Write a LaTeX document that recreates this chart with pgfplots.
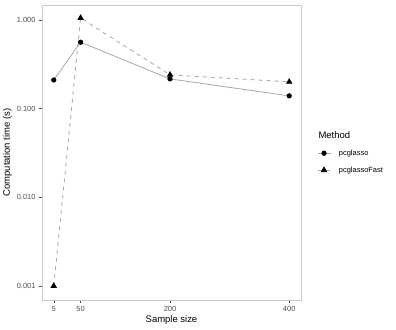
\documentclass[border=0pt]{standalone}
\usepackage{pgfplots}
\pgfplotsset{compat=1.18}
\usepackage{fontspec}
\setmainfont{Liberation Sans}
\definecolor{tickgray}{gray}{0.30}
\definecolor{framegray}{gray}{0.80}
\definecolor{linegray}{gray}{0.65}
\begin{document}
\begin{tikzpicture}[x=1bp,y=1bp]
\useasboundingbox (0,0) rectangle (396,330);
\begin{axis}[
    at={(42bp,30bp)}, anchor=south west,
    scale only axis,
    width=259bp, height=295bp,
    ymode=log,
    xmin=-14.75, xmax=419.75,
    ymin=0.000695, ymax=1.47,
    xtick={5,50,200,400},
    xticklabels={5,50,200,400},
    ytick={0.001,0.01,0.1,1},
    yticklabels={0.001,0.010,0.100,1.000},
    minor tick length=0pt,
    axis line style={framegray, line width=0.6pt},
    tick style={tickgray, line width=0.5pt},
    tick align=outside,
    major tick length=3bp,
    xtick pos=bottom, ytick pos=left,
    ticklabel style={font=\fontsize{7.5}{8}\selectfont, text=tickgray},
    /pgf/number format/assume math mode=true,
    xlabel={Sample size},
    ylabel={Computation time (s)},
    label style={font=\fontsize{9.5}{11}\selectfont},
    xlabel style={yshift=3bp},
    ylabel style={yshift=-2bp},
    legend style={at={(1.05,0.52)}, anchor=north west, draw=none, fill=none,
        font=\fontsize{7.5}{8}\selectfont, row sep=8bp,
        nodes={inner sep=1bp}},
    legend cell align=left,
    legend image code/.code={
        \draw[mark repeat=2, mark phase=2, #1]
            plot coordinates {(0bp,0bp) (6.5bp,0bp) (13bp,0bp)};
    },
]
\addplot[linegray, line width=0.8pt, mark=*, mark size=2.2pt,
    mark options={solid, black, fill=black}] coordinates {
    (5, 0.21) (50, 0.56) (200, 0.216) (400, 0.139)
};
\addlegendentry{\hspace{7bp}pcglasso}
\addplot[linegray, line width=0.8pt, dash pattern=on 4bp off 4bp,
    mark=triangle*, mark size=3pt,
    mark options={solid, black, fill=black}] coordinates {
    (5, 0.001) (50, 1.05) (200, 0.24) (400, 0.20)
};
\addlegendentry{\hspace{7bp}pcglassoFast}
\end{axis}
\node[anchor=west, font=\fontsize{9.5}{11}\selectfont] at (315,195) {Method};
\end{tikzpicture}
\end{document}
